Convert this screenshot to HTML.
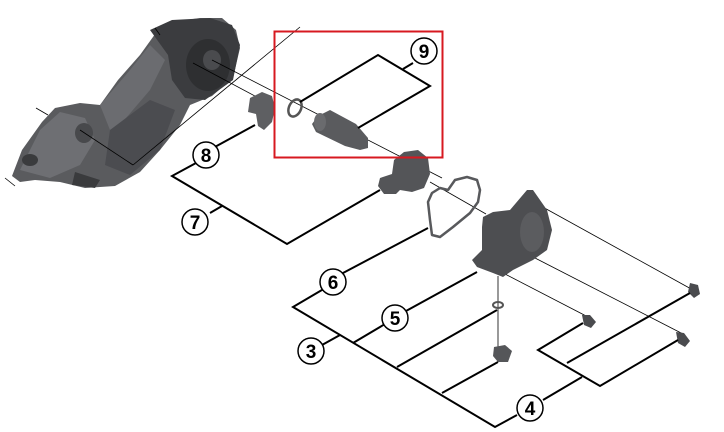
<!DOCTYPE html>
<html><head><meta charset="utf-8"><style>
html,body{margin:0;padding:0;background:#fff;}
svg{display:block}
text{font-family:"Liberation Sans",sans-serif;font-weight:bold;font-size:19px;}
</style></head><body>
<svg width="724" height="432" viewBox="0 0 724 432" xmlns="http://www.w3.org/2000/svg">
<!-- derailleur body -->
<g>
<path d="M12,176 L22,150 L42,122 L55,108 L80,103 L100,105 L118,80 L140,55 L158,30 L172,22 L200,18 L222,18 L236,30 L240,48 L233,78 L212,96 L190,105 L180,125 L160,150 L140,172 L115,186 L85,188 L60,182 L35,180 L20,182 Z" fill="#5a5b5e"/>
<path d="M150,30 L172,20 L210,18 L232,25 L240,45 L233,80 L205,100 L185,98 L172,80 L168,55 Z" fill="#3b3c3f"/>
<ellipse cx="208" cy="65" rx="22" ry="26" fill="#2e2f31"/>
<ellipse cx="212" cy="60" rx="9" ry="10" fill="#4a4b4e"/>
<path d="M100,105 L130,70 L150,45 L165,60 L150,90 L120,125 L110,130 Z" fill="#6b6c70"/>
<path d="M110,130 L150,100 L175,110 L160,150 L130,175 L105,165 Z" fill="#4b4c50"/>
<path d="M20,170 L40,130 L60,112 L85,118 L95,140 L80,165 L50,178 Z" fill="#6e6f73"/>
<ellipse cx="30" cy="160" rx="8" ry="6" fill="#3a3b3d"/>
<ellipse cx="84" cy="133" rx="9" ry="10" fill="#48494c"/>
<path d="M75,172 L100,180 L95,188 L72,185 Z" fill="#3a3b3d"/>
</g>
<!-- thin axis lines -->
<g stroke="#000" stroke-width="0.8" fill="none">
<line x1="133" y1="165" x2="300" y2="27"/>
<line x1="193" y1="63" x2="268" y2="103"/>
<line x1="212" y1="60" x2="442" y2="178"/>
<line x1="80" y1="130" x2="133" y2="165"/>
<line x1="155" y1="28" x2="160" y2="35"/>
<line x1="36" y1="108" x2="48" y2="115"/>
<line x1="5" y1="178" x2="15" y2="186"/>
<line x1="430" y1="182" x2="486" y2="214"/>
<line x1="530" y1="200" x2="693" y2="290"/>
<line x1="535" y1="258" x2="685" y2="335"/>
<line x1="505" y1="274" x2="590" y2="318"/>
<line x1="498" y1="276" x2="498" y2="350"/>
</g>
<!-- part 8 -->
<path d="M250,98 L262,92 L272,96 L275,108 L272,122 L264,130 L258,126 L256,114 L248,112 Z" fill="#5e5f62"/>
<!-- part 9 ring + tube -->
<ellipse cx="295" cy="108" rx="6" ry="9" fill="none" stroke="#555" stroke-width="2.5" transform="rotate(25 295 108)"/>
<path d="M318,116 L330,110 L356,124 L368,138 L368,148 L360,150 L345,146 L316,132 L312,124 Z" fill="#5a5b5e"/>
<ellipse cx="320" cy="122" rx="6" ry="9" fill="#6a6b6e"/>
<!-- part 7 -->
<path d="M394,160 L404,152 L418,150 L428,158 L430,174 L424,188 L412,192 L400,190 L396,194 L384,194 L378,186 L380,178 L392,174 Z" fill="#545558"/>
<!-- gasket -->
<path d="M432,193 L440,188 L448,190 L455,180 L467,177 L477,180 L480,190 L478,202 L470,213 L453,227 L440,237 L432,235 L430,220 L428,202 Z" fill="none" stroke="#58595c" stroke-width="2.5" stroke-linejoin="round"/>
<!-- cover -->
<path d="M483,217 L493,212 L510,210 L527,190 L533,190 L547,210 L552,230 L547,250 L533,260 L513,270 L503,277 L493,273 L477,267 L472,260 L482,250 L482,227 Z" fill="#4d4e51"/>
<ellipse cx="532" cy="232" rx="12" ry="20" fill="#5b5c5f"/>
<!-- screws & small parts -->
<path d="M690,283 L698,285 L700,294 L694,298 L688,292 Z" fill="#4a4b4e"/>
<path d="M582,315 L590,315 L596,322 L591,328 L584,325 Z" fill="#4a4b4e"/>
<path d="M676,332 L684,333 L690,341 L685,347 L678,343 Z" fill="#4a4b4e"/>
<ellipse cx="498" cy="305" rx="5" ry="3" fill="none" stroke="#555" stroke-width="2"/>
<path d="M494,347 L505,345 L512,351 L508,362 L498,362 L493,356 Z" fill="#555659"/>
<!-- brackets -->
<g stroke="#000" stroke-width="2" fill="none">
<polyline points="300,102 378,55 430,86 358,128"/>
<line x1="403" y1="69" x2="413" y2="63"/>
<line x1="213" y1="148" x2="255" y2="125"/>
<polyline points="196,163 172,176 287,244 380,190"/>
<line x1="210" y1="213" x2="222" y2="206"/>
<polyline points="327,287 293,307 495,427 517,415"/>
<line x1="343" y1="273" x2="428" y2="228"/>
<line x1="322" y1="345" x2="340" y2="335"/>
<line x1="353" y1="343" x2="385" y2="324"/>
<line x1="406" y1="311" x2="477" y2="272"/>
<line x1="397" y1="367" x2="497" y2="310"/>
<line x1="442" y1="393" x2="498" y2="362"/>
<line x1="543" y1="400" x2="582" y2="377"/>
<polyline points="583,323 538,350 600,386 678,340"/>
<line x1="567" y1="363" x2="690" y2="293"/>
</g>
<!-- labels -->
<g fill="#fff" stroke="#000" stroke-width="1.5">
<circle cx="424" cy="51" r="13"/>
<circle cx="206" cy="155" r="13"/>
<circle cx="195" cy="222" r="13"/>
<circle cx="333" cy="282" r="13"/>
<circle cx="395" cy="318" r="13"/>
<circle cx="311" cy="351" r="13"/>
<circle cx="530" cy="408" r="13"/>
</g>
<g text-anchor="middle">
<text x="424" y="58">9</text>
<text x="206" y="162">8</text>
<text x="195" y="229">7</text>
<text x="333" y="289">6</text>
<text x="395" y="325">5</text>
<text x="311" y="358">3</text>
<text x="530" y="415">4</text>
</g>
<!-- red box -->
<rect x="274.5" y="31.5" width="168" height="126" fill="none" stroke="#d71920" stroke-width="2"/>
</svg>
</body></html>
